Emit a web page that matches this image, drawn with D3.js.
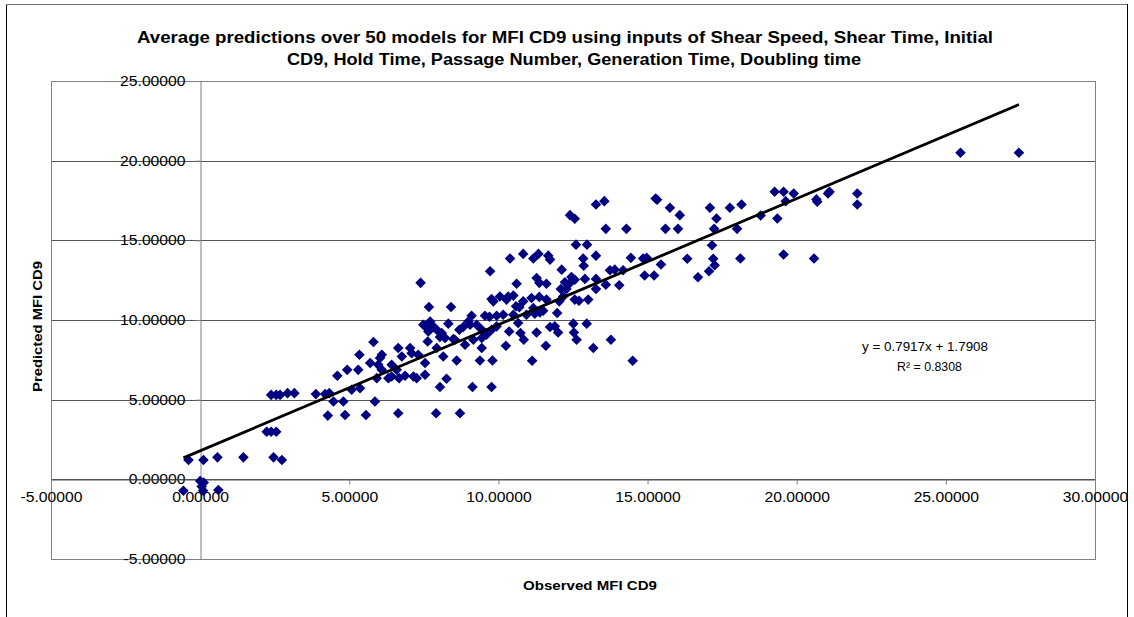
<!DOCTYPE html>
<html><head><meta charset="utf-8">
<script src="https://cdn.jsdelivr.net/npm/d3@7"></script>
<style>
body{margin:0;background:#fff}
svg{display:block}
text{font-family:"Liberation Sans",Arial,sans-serif;fill:#000}
</style>
</head><body>
<svg id="c" width="1134" height="617"></svg>
<script>
// ---------------- data ----------------
const titleLines = [
  "Average predictions  over 50 models for MFI CD9 using inputs of Shear Speed, Shear Time, Initial",
  "CD9, Hold Time, Passage Number, Generation  Time, Doubling time"
];
const xTitle = "Observed MFI CD9";
const yTitle = "Predicted MFI CD9";
const xTicks = [-5, 0, 5, 10, 15, 20, 25, 30];
const yTicks = [-5, 0, 5, 10, 15, 20, 25];
const trendSlope = 0.7917;
const trendIntercept = 1.7908;
const trendR2 = 0.8308;

const observed = [
  -0.56, 0.00, 0.12, 0.05, 0.10, 0.61,
  -0.39, 0.11, 0.58, 1.45, 2.46, 2.74,
  2.23, 2.38, 2.55,
  2.38, 2.55, 2.68, 2.93, 3.16, 3.88, 4.19, 4.33, 4.28,
  9.72, 7.39, 7.67, 8.41, 9.77, 9.83,
  9.10, 9.55, 9.70, 9.94,
  7.48, 7.60, 7.76, 7.93, 8.10, 7.65, 7.71, 8.32, 8.69, 8.49,
  8.21, 8.04, 7.63, 8.99, 9.05, 8.82, 9.27, 9.44, 9.60, 9.77,
  9.94, 9.44, 9.16, 8.88, 8.54, 9.44, 9.38, 9.80, 8.60, 7.93,
  7.54, 8.15, 8.26, 8.04, 9.13, 9.77,
  5.81, 5.34, 4.93, 5.30, 4.60, 5.70, 6.03, 6.09, 5.97, 6.09,
  5.92, 6.31, 6.42, 6.59, 6.64, 6.76, 7.04, 7.09, 7.31, 7.15,
  6.87, 6.67, 7.54, 6.42, 7.26, 4.47, 4.80, 5.36, 5.08, 5.86,
  4.86, 5.56, 6.64, 7.91, 8.71,
  13.27, 13.55, 15.27, 15.32, 15.75, 16.08, 12.40, 12.56, 13.60, 14.29,
  15.60, 16.02, 12.60, 12.97,
  10.39, 10.83, 11.17, 11.34, 11.67, 11.73, 12.84, 13.27, 12.12, 12.86,
  14.44, 14.85, 14.97, 15.45, 16.33, 16.69,
  10.61, 11.28, 11.61, 11.37, 12.45, 12.56, 12.40, 12.90, 13.27, 13.27,
  13.60, 13.74, 13.90, 14.18, 14.05, 14.90, 15.22,
  12.09, 12.23, 12.28, 12.17, 12.04, 12.56, 12.70, 13.01,
  10.05, 10.50, 10.33, 10.27, 10.83, 11.11, 11.37, 11.61, 10.59, 10.70,
  11.17, 11.50, 11.22, 11.39, 11.97, 10.16, 10.50, 10.94,
  10.36, 10.66, 10.74, 10.85, 11.28, 11.73, 11.89, 12.00, 12.51, 12.53,
  12.62, 12.96, 10.25, 11.59, 13.18, 13.77, 11.13, 14.50,
  19.26, 19.56, 19.90, 19.63, 20.66, 20.69, 21.05, 21.10, 22.03, 22.03,
  17.09, 17.76, 18.15, 18.79, 19.35, 17.31, 17.23, 18.00, 17.16, 17.20,
  18.11, 19.56, 20.58, 17.25, 17.06,
  25.49, 27.45
];
const predicted = [
  -0.72, -0.10, -0.20, -0.45, -0.72, -0.67,
  1.21, 1.21, 1.38, 1.38, 1.38, 1.21,
  2.99, 2.99, 2.99,
  5.30, 5.30, 5.30, 5.41, 5.41, 5.35, 5.35, 5.41, 4.00,
  13.06, 12.33, 10.82, 10.82, 11.32, 11.17,
  10.27, 10.27, 10.20, 10.27,
  9.70, 9.50, 9.70, 9.39, 9.18, 9.28, 9.91, 9.77, 9.39, 8.80,
  8.87, 8.93, 8.65, 9.91, 9.70, 9.56, 9.70, 9.39, 9.08, 9.39,
  9.60, 8.87, 8.76, 8.45, 8.76, 8.24, 7.46, 7.46, 7.46, 8.24,
  7.30, 7.71, 6.31, 5.79, 5.79, 5.79,
  8.62, 7.82, 6.87, 6.87, 6.50, 7.30, 7.61, 7.82, 7.19, 6.87,
  6.35, 6.35, 7.19, 6.87, 8.24, 7.71, 8.24, 7.92, 7.82, 6.45,
  6.50, 6.35, 6.56, 6.45, 6.35, 4.88, 4.88, 5.72, 5.62, 4.88,
  4.04, 4.04, 4.15, 4.15, 4.15,
  17.25, 17.46, 17.63, 17.55, 17.04, 16.58, 16.58, 16.35, 15.72, 15.72,
  15.72, 15.72, 14.73, 14.73,
  13.86, 14.15, 13.86, 14.15, 14.04, 13.79, 13.86, 14.04, 13.16, 13.41,
  13.90, 13.86, 13.90, 13.48, 13.84, 12.68,
  12.28, 12.64, 12.28, 12.33, 12.70, 12.53, 12.33, 12.58, 12.58, 11.95,
  12.22, 13.12, 13.16, 13.12, 12.18, 12.79, 12.79,
  11.95, 12.37, 11.95, 11.48, 11.17, 11.28, 11.21, 11.28,
  11.48, 11.53, 11.48, 11.28, 11.17, 11.38, 11.45, 11.28, 10.86, 10.80,
  10.75, 10.58, 10.40, 10.48, 10.44, 10.33, 10.33, 10.33,
  9.28, 9.81, 9.18, 8.76, 9.22, 9.56, 9.60, 9.22, 9.77, 9.22,
  8.76, 9.77, 8.38, 8.38, 8.24, 8.76, 7.44, 7.44,
  18.05, 18.05, 17.94, 17.46, 17.57, 17.42, 17.94, 18.05, 17.94, 17.25,
  17.04, 17.04, 17.25, 16.56, 16.37, 16.37, 15.72, 15.72, 14.69, 13.84,
  13.86, 14.11, 13.86, 13.44, 13.06,
  20.50, 20.50
];

// ---------------- drawing ----------------
const svg = d3.select("#c");
const x = d3.scaleLinear().domain([-5, 30]).range([51, 1095]);
const y = d3.scaleLinear().domain([-5, 25]).range([559, 81]);
const fmt = d3.formatLocale({decimal: ".", thousands: ",", grouping: [3], currency: ["", ""], minus: "-"}).format(".5f");

function stretch(sel, k) {
  sel.each(function () {
    const w = this.getComputedTextLength();
    this.setAttribute("textLength", w * k);
    this.setAttribute("lengthAdjust", "spacingAndGlyphs");
  });
}

// chart-area frame
svg.append("line").attr("x1", 6.5).attr("x2", 6.5).attr("y1", 4).attr("y2", 617).attr("stroke", "#000");
svg.append("line").attr("x1", 6).attr("x2", 1128).attr("y1", 4.5).attr("y2", 4.5).attr("stroke", "#777");
svg.append("line").attr("x1", 1127.5).attr("x2", 1127.5).attr("y1", 4).attr("y2", 617).attr("stroke", "#000");

// gridlines
svg.append("g").selectAll("line").data(yTicks.filter(t => t > -5 && t < 25)).join("line")
  .attr("x1", x(-5)).attr("x2", x(30))
  .attr("y1", d => Math.round(y(d)) + 0.5).attr("y2", d => Math.round(y(d)) + 0.5)
  .attr("stroke", "#555").attr("stroke-width", 1);

// plot border
svg.append("rect").attr("x", x(-5) + 0.5).attr("y", y(25) + 0.5)
  .attr("width", x(30) - x(-5)).attr("height", y(-5) - y(25))
  .attr("fill", "none").attr("stroke", "#808080");

// y axis (crosses at x = 0)
const gy = svg.append("g").attr("transform", `translate(${Math.round(x(0)) + 0.5},0)`)
  .call(d3.axisLeft(y).tickValues(yTicks).tickFormat(fmt).tickSize(5).tickSizeOuter(0).tickPadding(10));
gy.select(".domain").attr("stroke", "#808080");
gy.selectAll(".tick line").attr("stroke", "#808080");
gy.selectAll("text").attr("font-size", 14).attr("font-family", '"Liberation Sans",Arial,sans-serif').attr("fill", "#000");

// x axis (crosses at y = 0)
const gx = svg.append("g").attr("transform", `translate(0,${Math.round(y(0)) + 0.5})`)
  .call(d3.axisBottom(x).tickValues(xTicks).tickFormat(fmt).tickSize(5).tickSizeOuter(0).tickPadding(8));
gx.select(".domain").attr("stroke", "#555");
gx.selectAll(".tick line").attr("stroke", "#808080");
gx.selectAll("text").attr("font-size", 14).attr("font-family", '"Liberation Sans",Arial,sans-serif').attr("fill", "#000");

stretch(gy.selectAll("text"), 1.12);
stretch(gx.selectAll("text"), 1.12);

// points
const pts = observed.map((v, i) => [v, predicted[i]]);
svg.append("g").selectAll("path").data(pts).join("path")
  .attr("d", d3.symbol(d3.symbolSquare, 56))
  .attr("transform", d => `translate(${x(d[0])},${y(d[1])}) rotate(45)`)
  .attr("fill", "#000080");

// linear trendline
const xmin = d3.min(observed), xmax = d3.max(observed);
svg.append("line")
  .attr("x1", x(xmin)).attr("y1", y(trendSlope * xmin + trendIntercept))
  .attr("x2", x(xmax)).attr("y2", y(trendSlope * xmax + trendIntercept))
  .attr("stroke", "#000").attr("stroke-width", 2.8);

// equation
svg.append("text").attr("x", 862).attr("y", 351).attr("font-size", 13)
  .attr("textLength", 126).attr("lengthAdjust", "spacingAndGlyphs")
  .text(`y = ${trendSlope}x + ${trendIntercept}`);
svg.append("text").attr("x", 897).attr("y", 371).attr("font-size", 13)
  .attr("textLength", 65).attr("lengthAdjust", "spacingAndGlyphs")
  .text(`R² = ${trendR2}`);

// title
svg.append("text").attr("x", 137).attr("y", 43).attr("font-size", 16).attr("font-weight", "bold")
  .attr("textLength", 856).attr("lengthAdjust", "spacingAndGlyphs").text(titleLines[0]);
svg.append("text").attr("x", 287).attr("y", 65).attr("font-size", 16).attr("font-weight", "bold")
  .attr("textLength", 574).attr("lengthAdjust", "spacingAndGlyphs").text(titleLines[1]);

// axis titles
svg.append("text").attr("x", 523).attr("y", 590).attr("font-size", 13).attr("font-weight", "bold")
  .attr("textLength", 134).attr("lengthAdjust", "spacingAndGlyphs").text(xTitle);
svg.append("text").attr("transform", "translate(42,392) rotate(-90)").attr("font-size", 13).attr("font-weight", "bold")
  .attr("textLength", 131).attr("lengthAdjust", "spacingAndGlyphs").text(yTitle);
</script>
</body></html>
